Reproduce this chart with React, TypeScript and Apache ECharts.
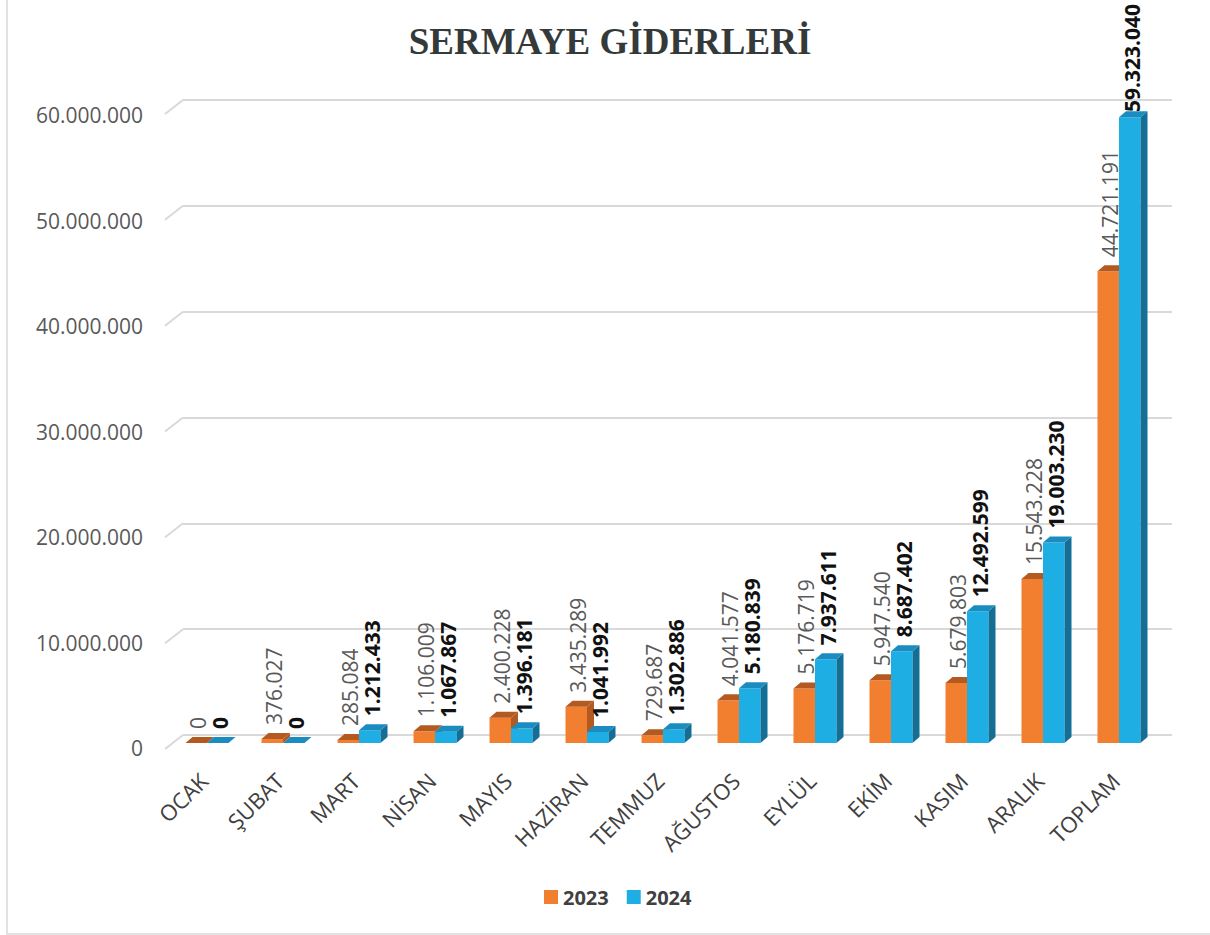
import React, { useEffect, useRef } from "react";
import * as echarts from "echarts";

const categories = ["OCAK", "ŞUBAT", "MART", "NİSAN", "MAYIS", "HAZİRAN", "TEMMUZ", "AĞUSTOS", "EYLÜL", "EKİM", "KASIM", "ARALIK", "TOPLAM"];
const values2023 = [0, 376027, 285084, 1106009, 2400228, 3435289, 729687, 4041577, 5176719, 5947540, 5679803, 15543228, 44721191];
const values2024 = [0, 0, 1212433, 1067867, 1396181, 1041992, 1302886, 5180839, 7937611, 8687402, 12492599, 19003230, 59323040];
const yTicks = [0, 10000000, 20000000, 30000000, 40000000, 50000000, 60000000];
const seriesNames = ["2023", "2024"];

const fmt = (n: number) => String(Math.round(n)).replace(/\B(?=(\d{3})+(?!\d))/g, ".");

const measureCanvas = document.createElement("canvas");
const measure = (text: string, font: string) => {
  const ctx = measureCanvas.getContext("2d");
  if (!ctx) return text.length * 11;
  ctx.font = font;
  return ctx.measureText(text).width;
};

const BAR_W = 21.5;
const DX = 7;
const DY = -6;
const LABEL_FS = 21;

function makeBarRender(side: number, front: string, top: string, sideCol: string, labelColor: string, bold: boolean) {
  return (params: any, api: any) => {
    const idx = api.value(0);
    const val = api.value(1);
    const c = api.coord([idx, val]);
    const b = api.coord([idx, 0]);
    const x0 = side === 0 ? c[0] - BAR_W : c[0];
    const yTop = c[1];
    const yBase = b[1];
    const x1 = x0 + BAR_W;
    const text = fmt(val);
    const font = `${bold ? "bold " : ""}${LABEL_FS}px "Open Sans"`;
    const len = measure(text, font);
    let ly = yTop - 14;
    let align = "left";
    if (ly - len < 4) {
      ly = 4;
      align = "right";
    }
    return {
      type: "group",
      children: [
        {
          type: "rect",
          shape: { x: x0, y: yTop, width: BAR_W, height: Math.max(0, yBase - yTop) },
          style: { fill: front },
        },
        {
          type: "polygon",
          shape: { points: [[x1, yTop], [x1 + DX, yTop + DY], [x1 + DX, yBase + DY], [x1, yBase]] },
          style: { fill: sideCol },
        },
        {
          type: "polygon",
          shape: { points: [[x0, yTop], [x1, yTop], [x1 + DX, yTop + DY], [x0 + DX, yTop + DY]] },
          style: { fill: top },
        },
        {
          type: "text",
          x: x0 + BAR_W / 2 + 2,
          y: ly,
          rotation: Math.PI / 2,
          style: {
            text,
            fill: labelColor,
            font,
            align,
            verticalAlign: "middle",
          },
        },
      ],
    };
  };
}

export default function App() {
  const ref = useRef<HTMLDivElement>(null);
  useEffect(() => {
    if (!ref.current) return;
    const chart = echarts.init(ref.current, null, { renderer: "svg" });
    const option: any = {
      animation: false,
      backgroundColor: "#ffffff",
      textStyle: { fontFamily: "Open Sans" },
      graphic: [
        {
          type: "polyline",
          shape: { points: [[7, 0], [7, 934], [1212, 934]] },
          style: { stroke: "#d9d9d9", lineWidth: 1.5, fill: "none" },
          z: 0,
        },
        {
          type: "text",
          x: 610,
          y: 41,
          style: {
            text: "SERMAYE GİDERLERİ",
            font: 'bold 37px "Liberation Serif"',
            fill: "#343a3a",
            align: "center",
            verticalAlign: "middle",
          },
        },
      ],
      legend: {
        data: seriesNames,
        left: 539,
        top: 882,
        icon: "rect",
        itemWidth: 14,
        itemHeight: 14,
        itemGap: 18,
        textStyle: { fontSize: 20, fontWeight: "bold", color: "#404040", fontFamily: "Open Sans", padding: [0, 0, 0, 0] },
      },
      grid: [
        { left: 183, right: 38, top: 100, bottom: 200 },
        { left: 169, right: 53, top: 110, bottom: 192 },
        { left: 165, right: 53, top: 115, bottom: 187 },
      ],
      xAxis: [
        { type: "value", gridIndex: 0, min: 0, max: 1, show: false },
        {
          type: "category",
          gridIndex: 1,
          data: categories,
          axisLine: { show: false },
          axisTick: { show: false },
          axisLabel: { rotate: 45, fontSize: 22, color: "#404040", margin: 30, padding: [0, 5, 0, 0], fontFamily: "Open Sans", interval: 0 },
        },
        { type: "value", gridIndex: 2, min: 0, max: 1, show: false },
      ],
      yAxis: [
        {
          type: "value",
          gridIndex: 0,
          min: 0,
          max: 60000000,
          interval: 10000000,
          axisLine: { show: false },
          axisTick: { show: false },
          axisLabel: { show: false },
          splitLine: { show: true, lineStyle: { color: "#d9d9d9", width: 2 } },
        },
        { type: "value", gridIndex: 1, min: 0, max: 60000000, show: false },
        {
          type: "value",
          gridIndex: 2,
          min: 0,
          max: 60000000,
          interval: 10000000,
          axisLine: { show: false },
          axisTick: { show: false },
          splitLine: { show: false },
          axisLabel: { fontSize: 21, color: "#595959", margin: 22, fontFamily: "Open Sans", formatter: (v: number) => fmt(v) },
        },
      ],
      series: [
        {
          type: "custom",
          name: "walls",
          xAxisIndex: 0,
          yAxisIndex: 0,
          silent: true,
          clip: false,
          data: yTicks.map((v) => [0, v]),
          renderItem: (params: any, api: any) => {
            const p = api.coord([0, api.value(1)]);
            return {
              type: "line",
              shape: { x1: p[0] - 18, y1: p[1] + 14, x2: p[0], y2: p[1] },
              style: { stroke: "#d9d9d9", lineWidth: 2 },
            };
          },
        },
        {
          type: "custom",
          name: "2023",
          xAxisIndex: 1,
          yAxisIndex: 1,
          clip: false,
          itemStyle: { color: "#F27E30" },
          data: values2023.map((v, i) => [i, v]),
          renderItem: makeBarRender(0, "#F27E30", "#B4591F", "#B35A22", "#595959", false),
          z: 3,
        },
        {
          type: "custom",
          name: "2024",
          xAxisIndex: 1,
          yAxisIndex: 1,
          clip: false,
          itemStyle: { color: "#1EAEE4" },
          data: values2024.map((v, i) => [i, v]),
          renderItem: makeBarRender(1, "#1EAEE4", "#1A8CC0", "#146F96", "#111111", true),
          z: 4,
        },
      ],
    };
    chart.setOption(option);
    return () => chart.dispose();
  }, []);
  return <div ref={ref} style={{ position: "absolute", left: 0, top: 0, width: 1210, height: 935 }} />;
}
